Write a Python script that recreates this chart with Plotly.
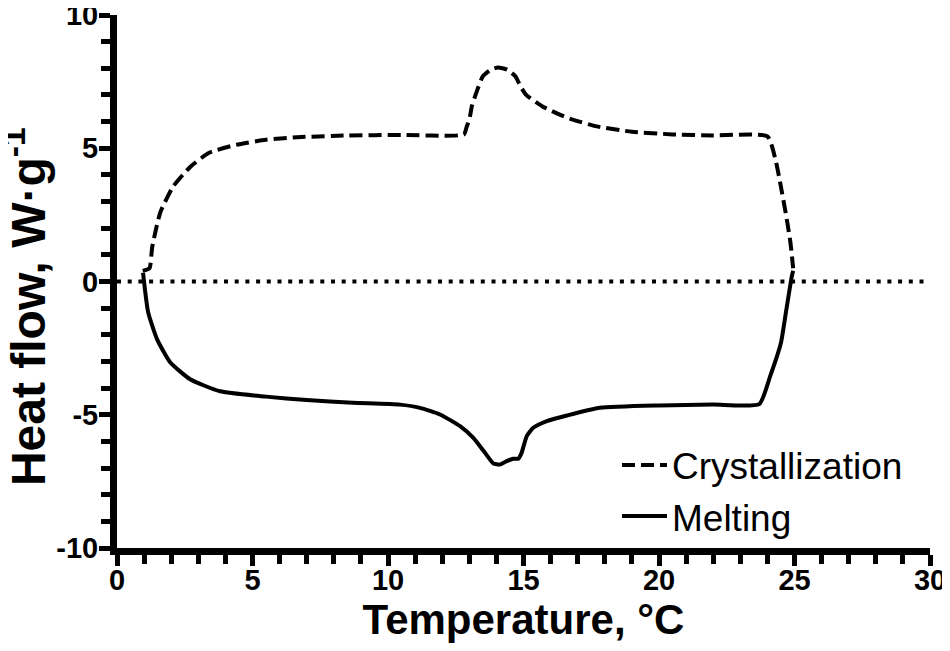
import plotly.graph_objects as go

# DSC curves
cryst_temp = [0.95, 1.2, 1.3, 1.6, 2.07, 2.7, 3.4, 4.4, 5.5, 6.8, 8.5, 10.5, 12.8,
              12.9, 13.0, 13.1, 13.3, 13.5, 13.8, 14.06, 14.4, 14.7, 14.9, 15.1,
              15.7, 16.6, 17.7, 19.0, 20.5, 22.0, 24.0, 24.3, 24.5, 24.7, 24.85, 24.95]
cryst_flow = [0.4, 0.5, 1.3, 2.6, 3.56, 4.3, 4.83, 5.13, 5.32, 5.42, 5.48, 5.5, 5.52,
              5.8, 6.07, 6.6, 7.2, 7.7, 7.95, 8.03, 7.95, 7.7, 7.3, 7.0,
              6.57, 6.15, 5.82, 5.62, 5.52, 5.48, 5.45, 4.57, 3.55, 2.43, 1.46, 0.5]

melt_temp = [0.96, 1.15, 1.48, 1.96, 2.7, 3.8, 5.5, 7.0, 8.7, 10.44, 11.18, 11.92,
             12.66, 13.15, 13.58, 13.89, 14.13, 14.38, 14.62, 14.81, 14.93, 15.12,
             15.36, 15.86, 16.6, 17.82, 20.0, 22.0, 23.7, 24.1, 24.5, 24.7, 24.9, 24.95]
melt_flow = [0.33, -1.16, -2.17, -3.03, -3.67, -4.12, -4.32, -4.45, -4.55, -4.62, -4.74, -4.99,
             -5.43, -5.87, -6.43, -6.83, -6.87, -6.74, -6.65, -6.65, -6.43, -5.8,
             -5.49, -5.24, -5.03, -4.74, -4.65, -4.62, -4.6, -3.56, -2.3, -1.05, 0.19, 0.4]

baseline_temp = [0, 30]
baseline_flow = [0, 0]

x_ticks = [0, 5, 10, 15, 20, 25, 30]
y_ticks = [-10, -5, 0, 5, 10]

FONT = "Liberation Sans, Arial, sans-serif"

fig = go.Figure()
fig.add_trace(go.Scatter(
    x=baseline_temp, y=baseline_flow, mode="lines",
    line=dict(color="black", width=4, dash="4px,6.7px"),
    showlegend=False, hoverinfo="skip",
))
fig.add_trace(go.Scatter(
    x=cryst_temp, y=cryst_flow, mode="lines", name="Crystallization",
    line=dict(color="black", width=4, dash="13px,6px", shape="spline", smoothing=0.5),
))
fig.add_trace(go.Scatter(
    x=melt_temp, y=melt_flow, mode="lines", name="Melting",
    line=dict(color="black", width=4, shape="spline", smoothing=0.5),
))

axis_common = dict(
    showgrid=False, zeroline=False, automargin=False,
    showline=True, linecolor="black", linewidth=7,
    ticks="outside", ticklen=11, tickwidth=5, tickcolor="black",
    ticklabeloverflow="allow",
    tickfont=dict(family=FONT, size=29, color="black"),
    minor=dict(dtick=1, ticks="outside", ticklen=9, tickwidth=5, tickcolor="black"),
)

fig.update_layout(
    width=942, height=643,
    margin=dict(l=109, r=20, t=7, b=103),
    paper_bgcolor="white", plot_bgcolor="white",
    xaxis=dict(range=[0, 30], tickvals=x_ticks,
               ticktext=[f"<b>{v}</b>" for v in x_ticks],
               ticklabelstandoff=-11,
               title=dict(text="<b>Temperature, °C</b>", standoff=7,
                          font=dict(family=FONT, size=42, color="black")),
               **axis_common),
    yaxis=dict(range=[-10, 10], tickvals=y_ticks,
               ticktext=[f"<b>{v}</b>" for v in y_ticks],
               ticklabelstandoff=-5,
               **axis_common),
    legend=dict(x=0.615, y=0.213, xanchor="left", yanchor="top",
                itemwidth=45,
                bgcolor="rgba(0,0,0,0)",
                font=dict(family=FONT, size=37, color="black")),
)

# y title sits a little below the plot centre in the original
fig.add_annotation(
    text="<b>Heat flow, W·g<sup>-1</sup></b>", textangle=-90,
    xref="paper", yref="paper", x=0, y=0.452,
    xanchor="center", yanchor="middle", xshift=-92, showarrow=False,
    font=dict(family=FONT, size=48, color="black"),
)

fig.write_html("out.html")
